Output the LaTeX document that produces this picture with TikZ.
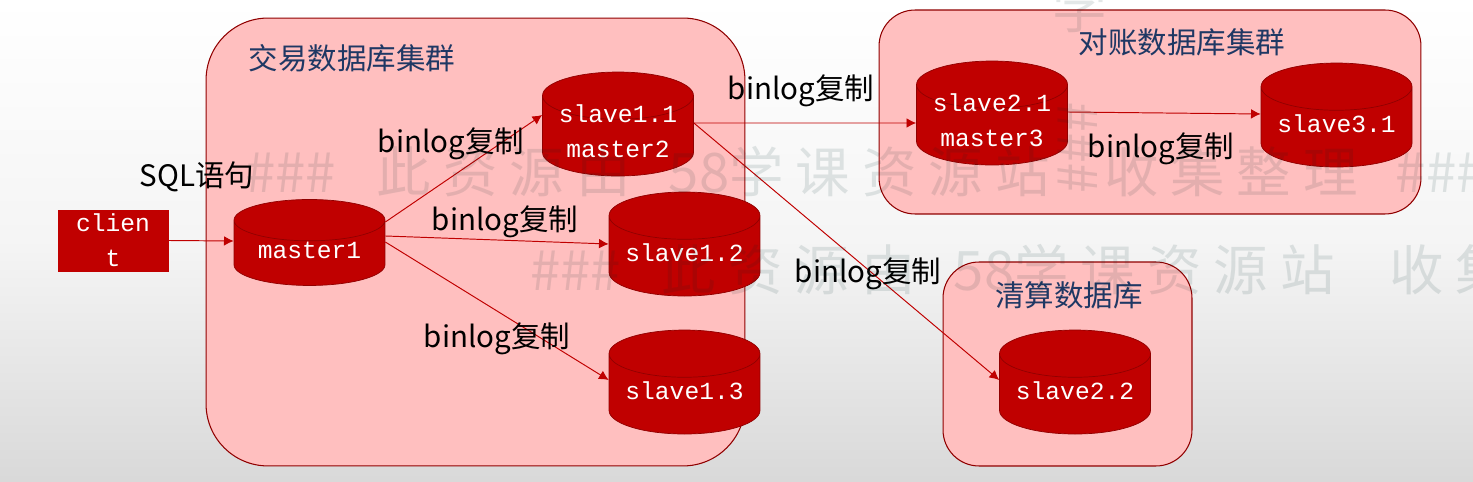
\documentclass[tikz,border=0pt]{standalone}
\usepackage{fontspec}
\setmainfont{Noto Sans CJK SC}
\newfontfamily\monofont{Liberation Mono}
\usetikzlibrary{arrows.meta}
\usetikzlibrary{shapes.geometric}
\definecolor{dbred}{HTML}{C00000}
\definecolor{panelpink}{HTML}{FFBFBF}
\definecolor{titlenavy}{HTML}{1F3864}
\newcommand{\wmgap}{\hspace{0.22em}}
\newcommand{\twolines}[2]{\smash{\raisebox{-3.4pt}{\begin{tabular}{@{}c@{}}#1\\#2\end{tabular}}}}
\tikzset{
    db/.style={draw=dbred!75!black, fill=dbred, cylinder, shape border rotate=90, aspect=0.4,
        minimum width=3.02cm, minimum height=2.08cm, inner sep=0pt, text=white, align=center, text depth=3.4pt,
        font=\monofont\fontsize{14}{20}\selectfont},
    panel/.style={draw=dbred!75!black, fill=panelpink, line width=0.6pt, inner sep=0pt},
    title/.style={text=titlenavy, font=\fontsize{16.8}{20}\selectfont},
    tag/.style={text=black, font=\fontsize{16.8}{20}\selectfont},
    repl/.style={draw=dbred, line width=0.55pt, -{Latex[length=5.5pt,width=5.5pt]}},
    wmark/.style={text=black!65!teal, opacity=0.11, inner sep=0pt, font=\fontsize{31}{34}\selectfont}
}
\begin{document}
\begin{tikzpicture}[x=0.02cm,y=-0.02cm]
        \useasboundingbox (0,0) rectangle (1473,482);
        \shade[top color=white, bottom color=black!15, middle color=black!4] (0,0) rectangle (1473,482);

        % panels
        \node[panel, rounded corners=1.24cm, minimum width=10.78cm, minimum height=8.96cm] (trade) at (475.5,242) {};
        \node[panel, rounded corners=0.72cm, minimum width=10.84cm, minimum height=4.08cm] (recon) at (1150,112) {};
        \node[panel, rounded corners=0.72cm, minimum width=4.98cm, minimum height=4.08cm] (clear) at (1067.5,364) {};
        \node[title] (tradetitle) at (352,58) {交易数据库集群};
        \node[title] (recontitle) at (1182,42) {对账数据库集群};
        \node[title] (cleartitle) at (1069,295) {清算数据库};

        % databases
        \node[db, minimum height=1.72cm] (master1) at (309.5,253) {master1};
        \node[db] (slave11) at (618,136) {\twolines{slave1.1}{master2}};
        \node[db] (slave12) at (684.5,256) {slave1.2};
        \node[db] (slave13) at (684.5,394) {slave1.3};
        \node[db] (slave21) at (992,125) {\twolines{slave2.1}{master3}};
        \node[db] (slave31) at (1336.5,127) {slave3.1};
        \node[db] (slave22) at (1075,394) {slave2.2};
        \node[draw=dbred, fill=dbred, text=white, align=center, inner sep=0pt, minimum width=2.2cm, minimum height=1.22cm,
            font=\monofont\fontsize{14}{20}\selectfont] (client) at (113,240.5) {clien\\t};

        % replication
        \draw[repl] (client.east) -- ([yshift=0.24cm]master1.west);
        \draw[repl] ([yshift=0.62cm]master1.east) -- ([yshift=0.42cm]slave11.west);
        \draw[repl] ([yshift=0.34cm]master1.east) -- ([yshift=0.24cm]slave12.west);
        \draw[repl] ([yshift=0.22cm]master1.east) -- ([yshift=0.28cm]slave13.west);
        \draw[repl] ([yshift=0.26cm]slave11.east) -- ([yshift=0.04cm]slave21.west);
        \draw[repl] ([yshift=0.26cm]slave11.east) -- ([yshift=0.28cm]slave22.west);
        \draw[repl] ([yshift=0.26cm]slave21.east) -- ([yshift=0.26cm]slave31.west);

        \node[tag] (sqltag) at (197,177) {SQL语句};
        \node[tag] (tag11) at (451,144) {binlog复制};
        \node[tag] (tag12) at (505,222) {binlog复制};
        \node[tag] (tag13) at (497,339) {binlog复制};
        \node[tag] (tag21) at (801,91) {binlog复制};
        \node[tag] (tag22) at (868,274) {binlog复制};
        \node[tag] (tag31) at (1161,149) {binlog复制};

        % background text
        \begin{scope}
        \clip (0,0) rectangle (1473,482);
        \node[wmark, anchor=west] (markone) at (245,172) {\#\#\#\hspace{0.75em}此\wmgap 资\wmgap 源\wmgap 由\hspace{0.7em}58学\wmgap 课\wmgap 资\wmgap 源\wmgap 站\hspace{1em}收\wmgap 集\wmgap 整\wmgap 理\hspace{0.7em}\#\#\#};
        \node[wmark, anchor=west] (marktwo) at (530,270) {\#\#\#\hspace{0.75em}此\wmgap 资\wmgap 源\wmgap 由\hspace{0.7em}58学\wmgap 课\wmgap 资\wmgap 源\wmgap 站\hspace{1em}收\wmgap 集\wmgap 整\wmgap 理\hspace{0.7em}\#\#\#};
        \node[wmark] (markthree) at (1080,8) {学};
        \node[wmark, rotate=90] (markfour) at (1078,148) {\#\#\#};
        \end{scope}
\end{tikzpicture}
\end{document}
